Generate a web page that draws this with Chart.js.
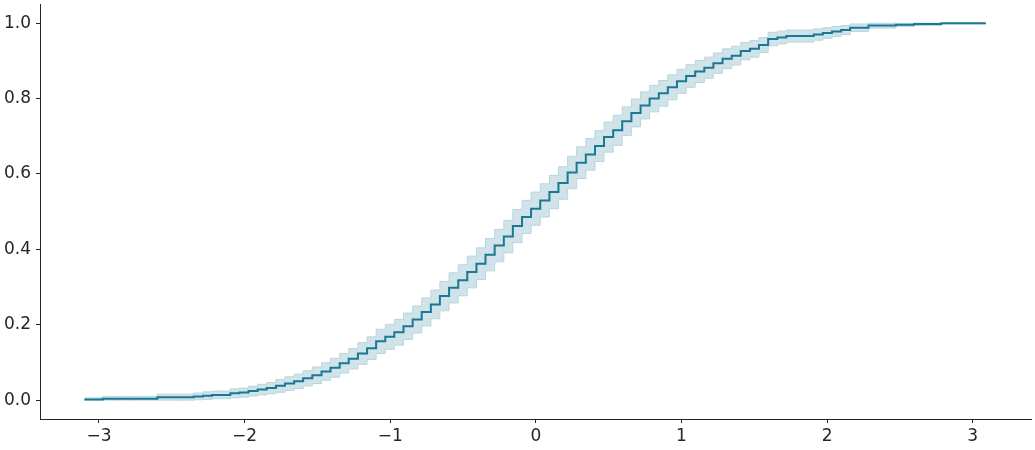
<!DOCTYPE html>
<html>
<head>
<meta charset="utf-8">
<script src="https://cdn.jsdelivr.net/npm/chart.js@4.4.1/dist/chart.umd.min.js"></script>
<style>
  html, body { margin: 0; padding: 0; background: #fff; }
  #wrap { width: 1035px; height: 450px; position: relative; }
</style>
</head>
<body>
<div id="wrap"><canvas id="ecdf"></canvas></div>
<script>
// --- data ---
const xGrid = [
  -3.100, -3.037, -2.975, -2.912, -2.850, -2.787, -2.724, -2.662, -2.599, -2.537,
  -2.474, -2.411, -2.349, -2.286, -2.224, -2.161, -2.098, -2.036, -1.973, -1.911,
  -1.848, -1.785, -1.723, -1.660, -1.598, -1.535, -1.472, -1.410, -1.347, -1.285,
  -1.222, -1.159, -1.097, -1.034, -0.972, -0.909, -0.846, -0.784, -0.721, -0.659,
  -0.596, -0.533, -0.471, -0.408, -0.346, -0.283, -0.220, -0.158, -0.095, -0.033,
  0.030, 0.093, 0.155, 0.218, 0.280, 0.343, 0.406, 0.468, 0.531, 0.593,
  0.656, 0.719, 0.781, 0.844, 0.906, 0.969, 1.032, 1.094, 1.157, 1.219,
  1.282, 1.345, 1.407, 1.470, 1.532, 1.595, 1.658, 1.720, 1.783, 1.845,
  1.908, 1.971, 2.033, 2.096, 2.158, 2.221, 2.284, 2.346, 2.409, 2.471,
  2.534, 2.597, 2.659, 2.722, 2.784, 2.847, 2.910, 2.972, 3.035, 3.090
];
const ecdfValues = [
  0.002, 0.002, 0.002, 0.004, 0.004, 0.004, 0.004, 0.004, 0.004, 0.008,
  0.008, 0.008, 0.008, 0.010, 0.012, 0.014, 0.014, 0.018, 0.020, 0.024,
  0.028, 0.032, 0.038, 0.044, 0.050, 0.058, 0.066, 0.076, 0.086, 0.098,
  0.110, 0.124, 0.138, 0.156, 0.168, 0.180, 0.196, 0.214, 0.234, 0.254,
  0.276, 0.298, 0.318, 0.340, 0.362, 0.386, 0.410, 0.434, 0.462, 0.486,
  0.508, 0.530, 0.552, 0.576, 0.604, 0.630, 0.652, 0.674, 0.698, 0.716,
  0.740, 0.762, 0.782, 0.800, 0.814, 0.830, 0.846, 0.860, 0.872, 0.882,
  0.894, 0.906, 0.914, 0.926, 0.932, 0.942, 0.958, 0.962, 0.966, 0.966,
  0.966, 0.970, 0.974, 0.978, 0.982, 0.988, 0.988, 0.994, 0.994, 0.994,
  0.996, 0.996, 0.998, 0.998, 0.998, 1.000, 1.000, 1.000, 1.000, 1.000
];
const bandLower = [
  0.000, 0.000, 0.000, 0.000, 0.000, 0.000, 0.000, 0.000, 0.000, 0.000,
  0.000, 0.000, 0.000, 0.001, 0.002, 0.004, 0.004, 0.006, 0.008, 0.011,
  0.014, 0.017, 0.021, 0.026, 0.031, 0.038, 0.044, 0.053, 0.061, 0.072,
  0.083, 0.095, 0.108, 0.124, 0.135, 0.146, 0.161, 0.178, 0.197, 0.216,
  0.237, 0.258, 0.277, 0.298, 0.320, 0.343, 0.367, 0.391, 0.418, 0.442,
  0.464, 0.486, 0.508, 0.533, 0.561, 0.588, 0.610, 0.633, 0.658, 0.676,
  0.702, 0.725, 0.746, 0.765, 0.780, 0.797, 0.814, 0.830, 0.843, 0.854,
  0.867, 0.880, 0.889, 0.903, 0.910, 0.922, 0.940, 0.945, 0.950, 0.950,
  0.950, 0.955, 0.960, 0.965, 0.970, 0.978, 0.978, 0.987, 0.987, 0.987,
  0.991, 0.991, 0.994, 0.994, 0.994, 0.998, 0.998, 0.998, 0.998, 0.998
];
const bandUpper = [
  0.006, 0.006, 0.006, 0.010, 0.010, 0.010, 0.010, 0.010, 0.010, 0.016,
  0.016, 0.016, 0.016, 0.019, 0.022, 0.024, 0.024, 0.030, 0.032, 0.037,
  0.042, 0.047, 0.055, 0.062, 0.069, 0.078, 0.088, 0.099, 0.111, 0.124,
  0.137, 0.153, 0.168, 0.188, 0.201, 0.214, 0.231, 0.250, 0.271, 0.292,
  0.315, 0.338, 0.359, 0.382, 0.404, 0.429, 0.453, 0.477, 0.506, 0.530,
  0.552, 0.574, 0.596, 0.619, 0.647, 0.672, 0.694, 0.715, 0.738, 0.756,
  0.778, 0.799, 0.818, 0.835, 0.848, 0.863, 0.878, 0.890, 0.901, 0.910,
  0.921, 0.932, 0.939, 0.949, 0.954, 0.962, 0.976, 0.979, 0.982, 0.982,
  0.982, 0.985, 0.988, 0.991, 0.994, 0.998, 0.998, 1.000, 1.000, 1.000,
  1.000, 1.000, 1.000, 1.000, 1.000, 1.000, 1.000, 1.000, 1.000, 1.000
];
const xTicks = [-3, -2, -1, 0, 1, 2, 3];
const yTicks = [0.0, 0.2, 0.4, 0.6, 0.8, 1.0];

const toPts = ys => xGrid.map((x, i) => ({ x: x, y: ys[i] }));
const ink = '#262626';

// chart.js paints dataset 0 last (on top), so the ecdf line goes first
new Chart(document.getElementById('ecdf'), {
  type: 'line',
  data: {
    datasets: [
      { data: toPts(ecdfValues), stepped: 'after', borderColor: '#1b7895', borderWidth: 2, pointRadius: 0, fill: false },
      { data: toPts(bandLower), stepped: 'after', borderColor: '#b8d6df', borderWidth: 1, pointRadius: 0, fill: false },
      { data: toPts(bandUpper), stepped: 'after', borderColor: '#b8d6df', borderWidth: 1, pointRadius: 0, fill: '-1', backgroundColor: '#cfe3e9' }
    ]
  },
  options: {
    responsive: true, maintainAspectRatio: false, animation: false,
    layout: { padding: { top: 4, right: 4, left: 0, bottom: 0 } },
    plugins: { legend: { display: false }, tooltip: { enabled: false } },
    scales: {
      x: {
        type: 'linear', min: -3.405, max: 3.40,
        afterBuildTicks: s => { s.ticks = xTicks.map(v => ({ value: v })); },
        afterFit: s => { s.height = 31; s.paddingLeft = 0; s.paddingRight = 0; },
        grid: { display: true, drawOnChartArea: false, drawTicks: true, tickLength: 4, color: ink },
        border: { display: true, color: ink, width: 1 },
        ticks: { color: ink, padding: 3, font: { family: 'DejaVu Sans', size: 17 },
                 callback: v => v < 0 ? '\u2212' + Math.abs(v) : String(v) }
      },
      y: {
        type: 'linear', min: -0.05, max: 1.051,
        afterBuildTicks: s => { s.ticks = yTicks.map(v => ({ value: v })); },
        afterFit: s => { s.width = 40; s.paddingTop = 0; s.paddingBottom = 0; },
        grid: { display: true, drawOnChartArea: false, drawTicks: true, tickLength: 4, color: ink },
        border: { display: true, color: ink, width: 1 },
        ticks: { color: ink, padding: 5, font: { family: 'DejaVu Sans', size: 17 },
                 callback: v => v.toFixed(1) }
      }
    }
  }
});
</script>
</body>
</html>
